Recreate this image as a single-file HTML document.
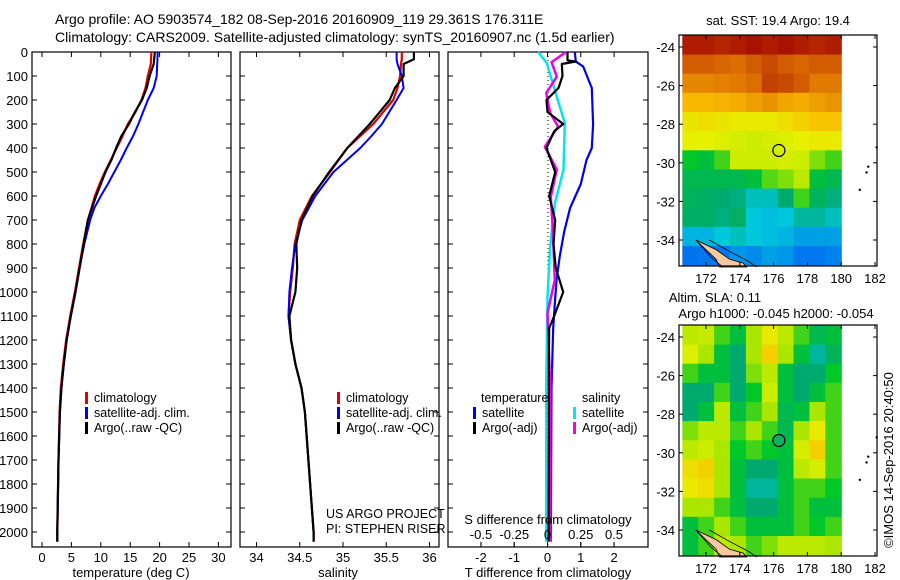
<!DOCTYPE html>
<html><head><meta charset="utf-8"><style>
html,body{margin:0;padding:0;background:#fff}
svg{display:block;font-family:"Liberation Sans",sans-serif}
</style></head><body>
<svg id="c" width="900" height="580" viewBox="0 0 900 580" xmlns="http://www.w3.org/2000/svg">
<text x="55" y="24" font-size="14">Argo profile: AO 5903574_182 08-Sep-2016 20160909_119 29.361S 176.311E</text>
<text x="55" y="42" font-size="14">Climatology: CARS2009. Satellite-adjusted climatology: synTS_20160907.nc (1.5d earlier)</text>
</svg>
<script>
// ---------- data ----------
const depthsT=[0,50,100,150,200,250,300,350,400,450,500,550,600,650,700,800,900,1000,1100,1200,1300,1400,1500,1700,2000,2040];
const tempClim=[18.6,18.5,18.0,17.6,16.9,15.9,14.6,13.7,12.7,11.7,10.7,9.8,9.0,8.4,7.8,7.0,6.3,5.6,4.8,4.1,3.6,3.2,3.0,2.8,2.6,2.6];
const tempArgo=[19.2,19.0,18.3,17.8,17.0,15.8,14.8,13.5,12.6,11.8,10.8,10.0,9.2,8.5,7.8,7.1,6.4,5.7,4.9,4.2,3.7,3.3,3.05,2.8,2.6,2.6];
const tempSat=[19.7,19.6,19.5,19.0,18.0,17.2,16.4,15.5,14.4,13.4,12.3,11.2,10.0,8.9,8.2,7.2,6.4,5.7,4.9,4.2,3.7,3.3,3.05,2.8,2.6,2.6];
const depthsS=[0,30,50,100,150,200,300,350,400,500,600,700,800,900,1000,1100,1200,1300,1400,1500,1700,2000,2040];
const salClim=[35.68,35.68,35.67,35.66,35.63,35.58,35.35,35.2,35.05,34.85,34.64,34.5,34.44,34.42,34.39,34.37,34.4,34.45,34.52,34.56,34.6,34.66,34.66];
const salSat=[35.62,35.62,35.63,35.68,35.7,35.62,35.45,35.33,35.2,34.89,34.68,34.53,34.45,34.41,34.38,34.37,34.4,34.45,34.52,34.56,34.6,34.66,34.66];
const salArgo=[35.82,35.82,35.7,35.7,35.6,35.54,35.31,35.18,35.05,34.84,34.65,34.52,34.46,34.47,34.45,34.38,34.4,34.45,34.52,34.56,34.6,34.66,34.66];
const depthsDT=[0,35,40,50,100,150,200,250,300,330,400,500,600,700,800,900,1000,1100,1150,1300,1600,2040];
const dTArgo=[0.6,0.6,0.85,0.43,0.45,0.33,-0.03,0.0,0.47,0.2,-0.03,0.23,0.05,0.23,0.18,0.25,0.47,0.2,0.05,0.04,0.04,0.03];
const depthsDTs=[0,40,60,150,300,400,450,550,650,750,850,950,1050,1150,1400,2040];
const dTSat=[0.82,0.85,1.07,1.33,1.37,1.33,1.17,1.0,0.68,0.5,0.37,0.27,0.22,0.17,0.12,0.1];
const depthsDS=[0,46,187,296,490,630,810,1020,1400,2040];
const dSSat=[-0.07,-0.006,0.07,0.13,0.12,0.056,0.02,0.0,-0.01,-0.01];
const depthsDSa=[0,42,103,171,254,311,395,490,603,742,950,1087,1400,2040];
const dSArgo=[0.14,0.03,0.07,-0.01,0.02,0.08,-0.02,0.07,0.025,0.04,0.055,0.0,0.02,0.02];
const depthTicks=[0,100,200,300,400,500,600,700,800,900,1000,1100,1200,1300,1400,1500,1600,1700,1800,1900,2000];
const tempTicks=[0,5,10,15,20,25,30];
const salTicks=[34,34.5,35,35.5,36];
const salTickLabels=["34","34.5","35","35.5","36"];
const dTTicks=[-2,-1,0,1,2];
const dSTicks=[-0.5,-0.25,0,0.25,0.5];
const dSTickLabels=["-0.5","-0.25","0","0.25","0.5"];
const lonTicks=[172,174,176,178,180,182];
const latTicks=[-24,-26,-28,-30,-32,-34];
const sstGrid=[
[0.97,0.97,0.96,0.97,0.98,0.97,0.98,0.97,0.96,0.97],
[0.90,0.90,0.89,0.88,0.90,0.92,0.90,0.89,0.90,0.90],
[0.84,0.84,0.85,0.86,0.88,0.93,0.92,0.90,0.86,0.86],
[0.76,0.76,0.77,0.78,0.80,0.82,0.79,0.78,0.80,0.82],
[0.69,0.70,0.69,0.68,0.68,0.68,0.70,0.72,0.74,0.74],
[0.67,0.67,0.66,0.65,0.64,0.65,0.66,0.67,0.68,0.68],
[0.52,0.50,0.55,0.64,0.64,0.64,0.65,0.64,0.58,0.55],
[0.48,0.48,0.48,0.48,0.50,0.56,0.58,0.62,0.50,0.48],
[0.47,0.46,0.45,0.44,0.40,0.40,0.45,0.55,0.47,0.44],
[0.46,0.46,0.44,0.46,0.38,0.37,0.38,0.42,0.42,0.40],
[0.36,0.36,0.38,0.40,0.38,0.37,0.36,0.34,0.34,0.34],
[0.28,0.30,0.30,0.33,0.32,0.34,0.33,0.30,0.30,0.31]];
const slaGrid=[
[0.62,0.63,0.55,0.50,0.60,0.68,0.62,0.55,0.48,0.50],
[0.66,0.60,0.50,0.45,0.60,0.72,0.60,0.50,0.42,0.47],
[0.55,0.50,0.50,0.45,0.58,0.62,0.50,0.45,0.45,0.52],
[0.45,0.45,0.55,0.45,0.52,0.64,0.50,0.45,0.50,0.55],
[0.45,0.50,0.62,0.50,0.55,0.60,0.48,0.50,0.60,0.55],
[0.58,0.62,0.62,0.55,0.60,0.55,0.48,0.60,0.68,0.55],
[0.62,0.64,0.60,0.52,0.55,0.52,0.50,0.65,0.72,0.55],
[0.70,0.72,0.60,0.50,0.45,0.45,0.50,0.62,0.65,0.55],
[0.68,0.70,0.60,0.50,0.42,0.42,0.50,0.55,0.55,0.52],
[0.60,0.60,0.55,0.50,0.45,0.45,0.50,0.55,0.50,0.50],
[0.50,0.55,0.60,0.55,0.50,0.50,0.50,0.55,0.52,0.55],
[0.50,0.55,0.62,0.60,0.55,0.58,0.62,0.62,0.62,0.60]];
const argoLon=176.311, argoLat=-29.361;

// ---------- helpers ----------
const NS="http://www.w3.org/2000/svg";
const svg=document.getElementById('c');
function mk(tag,at,parent){const e=document.createElementNS(NS,tag);for(const k in at)e.setAttribute(k,at[k]);(parent||svg).appendChild(e);return e;}
function txt(s,x,y,anchor,size,parent){const t=mk('text',{x:x,y:y,'text-anchor':anchor||'start','font-size':size||13},parent);t.textContent=s;return t;}
const TOP=52,BOT=547;
const yD=d=>TOP+d*0.24;

function panel(name,x0,x1){
  const g=mk('g',{});
  
  
  const r=mk('rect',{x:x0,y:TOP,width:x1-x0,height:BOT-TOP,fill:'none',stroke:'#000','stroke-width':1.2},g);
  
  
  depthTicks.forEach(d=>{mk('line',{x1:x0,x2:x0+5,y1:yD(d),y2:yD(d),stroke:'#000'},g);mk('line',{x1:x1-5,x2:x1,y1:yD(d),y2:yD(d),stroke:'#000'},g);});
  return g;
}
function line(g,name,xs,ds,xf,color,w){
  const pts=xs.map((v,i)=>xf(v).toFixed(1)+','+yD(ds[i]).toFixed(1)).join(' ');
  const p=mk('polyline',{points:pts,fill:'none',stroke:color,'stroke-width':w||2,'stroke-linejoin':'round'},g);
  
  
}
function xTicks(g,ticks,labels,xf,yTick,yLab,up){
  ticks.forEach((t,i)=>{mk('line',{x1:xf(t),x2:xf(t),y1:yTick,y2:yTick+(up?-5:-5),stroke:'#000'},g);mk('line',{x1:xf(t),x2:xf(t),y1:TOP,y2:TOP+5,stroke:'#000'},g);
    const l=txt(labels[i],xf(t),yLab,'middle',13,g);
    
    });
}
function legend(g,items,x,y){
  items.forEach((it,i)=>{mk('rect',{x:x,y:y+i*15-10,width:3,height:12,fill:it[1]},g);
    const t=txt(it[0],x+9,y+i*15,'start',12.5,g);
    
    });
}

// y tick labels
depthTicks.forEach(d=>{const t=txt(String(d),28,yD(d)+5,'end',13);
  
  });

// ---------- panel 1: temperature ----------
const xT=v=>42+v*5.88;
const p1=panel('temperature-panel',32,231);
line(p1,'temp-climatology-line',tempClim,depthsT,xT,'#e00000',2.2);
line(p1,'temp-satellite-line',tempSat,depthsT,xT,'#0000ee',2);
line(p1,'temp-argo-line',tempArgo,depthsT,xT,'#000',2.2);
xTicks(p1,tempTicks,tempTicks.map(String),xT,BOT,562);
let at=txt('temperature (deg C)',131,577,'middle',13);
legend(p1,[['climatology','#e00000'],['satellite-adj. clim.','#0000ee'],['Argo(..raw -QC)','#000']],85,402);

// ---------- panel 2: salinity ----------
const xS=v=>256.5+(v-34)*86.5;
const p2=panel('salinity-panel',240,439);
line(p2,'sal-climatology-line',salClim,depthsS,xS,'#e00000',2.2);
line(p2,'sal-satellite-line',salSat,depthsS,xS,'#0000ee',2);
line(p2,'sal-argo-line',salArgo,depthsS,xS,'#000',2.2);
xTicks(p2,salTicks,salTickLabels,xS,BOT,562);
at=txt('salinity',338,577,'middle',13);
legend(p2,[['climatology','#e00000'],['satellite-adj. clim.','#0000ee'],['Argo(..raw -QC)','#000']],337,402);
at=txt('US ARGO PROJECT',326,518,'start',12.5);
at=txt('PI: STEPHEN RISER',326,533,'start',12.5);

// ---------- panel 3: differences ----------
const xDT=v=>547.5+v*33.3;
const xDS=v=>547.5+v*133;
const p3=panel('difference-panel',448,648);
const zl=mk('line',{x1:548,x2:548,y1:TOP,y2:BOT,stroke:'#000','stroke-dasharray':'1,3'},p3);

line(p3,'dt-satellite-line',dTSat,depthsDTs,xDT,'#0000ee',2.2);
line(p3,'ds-satellite-line',dSSat,depthsDS,xDS,'#00e5ee',2.5);
line(p3,'ds-argo-line',dSArgo,depthsDSa,xDS,'#ee00ee',2.5);
line(p3,'dt-argo-line',dTArgo,depthsDT,xDT,'#000',2.2);
xTicks(p3,dTTicks,dTTicks.map(String),xDT,BOT,562);
dSTicks.forEach((t,i)=>{mk('line',{x1:xDS(t),x2:xDS(t),y1:BOT,y2:BOT-5,stroke:'#000'},p3);
  const l=txt(dSTickLabels[i],xDS(t),539,'middle',13,p3);
  
  });
at=txt('S difference from climatology',548,524,'middle',13);
at=txt('T difference from climatology',548,577,'middle',13);
at=txt('temperature',481,402,'start',12.5);
at=txt('salinity',582,402,'start',12.5);
legend(p3,[['satellite','#0000ee'],['Argo(-adj)','#000']],473,417);
legend(p3,[['satellite','#00e5ee'],['Argo(-adj)','#ee00ee']],573,417);

// ---------- maps ----------
function cmap(v){
  const st=[[0,[0,40,200]],[0.3,[0,120,240]],[0.38,[0,200,220]],[0.45,[0,170,110]],[0.52,[0,200,40]],[0.6,[170,230,0]],[0.67,[230,240,0]],[0.75,[250,190,0]],[0.88,[220,110,0]],[1,[160,0,0]]];
  v=Math.max(0,Math.min(1,v));
  for(let i=1;i<st.length;i++){if(v<=st[i][0]){const a=st[i-1],b=st[i],f=(v-a[0])/(b[0]-a[0]);
    return 'rgb('+a[1].map((c,j)=>Math.round(c+(b[1][j]-c)*f)).join(',')+')';}}
  return 'rgb(160,0,0)';
}
function map(name,y0,grid,title1,title2,dotFill){
  const g=mk('g',{});
  
  
  const X0=679,X1=877,Y1=y0+231;
  const lx=lon=>706+(lon-172)*16.9, ly=lat=>y0+12+(-24-lat)*19.3;
  const lon0=170.6,lon1=180,lat0=-23.4,lat1=-35.3;
  const nr=grid.length,nc=grid[0].length;
  const cw=(lx(lon1)-lx(lon0))/nc, ch=(ly(lat1)-ly(lat0))/nr;
  grid.forEach((row,i)=>row.forEach((v,j)=>{
    const c=mk('rect',{x:(lx(lon0)+j*cw).toFixed(1),y:(ly(lat0)+i*ch).toFixed(1),width:(cw+0.6).toFixed(1),height:(ch+0.6).toFixed(1),fill:cmap(v)},g);
    
    
  }));
  // coastline (north NZ)
  mk('path',{d:`M${lx(171.4)},${ly(-34.0)} L${lx(172.6)},${ly(-34.5)} L${lx(173.4)},${ly(-35.0)} L${lx(174.2)},${ly(-35.2)} L${lx(174.4)},${ly(-35.4)} L${lx(172.8)},${ly(-35.4)} L${lx(172.6)},${ly(-35.0)} Z`,fill:'#f6c8a0',stroke:'#000','stroke-width':0.8},g);
  mk('path',{d:`M${lx(171.4)},${ly(-34.0)} L${lx(172.3)},${ly(-34.9)} L${lx(173.0)},${ly(-35.4)} M${lx(172.2)},${ly(-34.0)} L${lx(173.4)},${ly(-34.6)} L${lx(174.5)},${ly(-35.1)} L${lx(175.0)},${ly(-35.4)}`,fill:'none',stroke:'#000','stroke-width':0.8},g);
  [[181.1,-31.4],[181.5,-30.5],[181.6,-30.2],[182.1,-29.2]].forEach(p=>mk('circle',{cx:lx(p[0]),cy:ly(p[1]),r:1.2,fill:'#000'},g));
  const fr=mk('rect',{x:X0,y:y0,width:X1-X0,height:Y1-y0,fill:'none',stroke:'#000','stroke-width':1.2},g);
  
  const dot=mk('circle',{cx:lx(argoLon),cy:ly(argoLat),r:6,fill:dotFill,stroke:'#000','stroke-width':1.2},g);
  
  lonTicks.forEach(l=>{mk('line',{x1:lx(l),x2:lx(l),y1:Y1,y2:Y1-4,stroke:'#000'},g);mk('line',{x1:lx(l),x2:lx(l),y1:y0,y2:y0+4,stroke:'#000'},g);
    const t=txt(String(l),lx(l),Y1+17,'middle',13,g);
    });
  latTicks.forEach(l=>{mk('line',{x1:X0,x2:X0+4,y1:ly(l),y2:ly(l),stroke:'#000'},g);mk('line',{x1:X1-4,x2:X1,y1:ly(l),y2:ly(l),stroke:'#000'},g);
    const t=txt(String(l),X0-4,ly(l)+5,'end',13,g);
    });
  if(title2){const a=txt(title1,715,y0-23,'middle',13,g);
    const b=txt(title2,776,y0-7,'middle',13,g);}
  else{const a=txt(title1,778,y0-10,'middle',13,g);}
}
map('sst-map',35,sstGrid,'sat. SST: 19.4  Argo: 19.4',null,'none');
map('sla-map',325,slaGrid,'Altim. SLA: 0.11','Argo h1000: -0.045 h2000: -0.054','#10b060');
at=txt('©IMOS 14-Sep-2016 20:40:50',0,0,'middle',13);
at.setAttribute('transform','translate(893,460) rotate(-90)');


</script>
</body></html>
